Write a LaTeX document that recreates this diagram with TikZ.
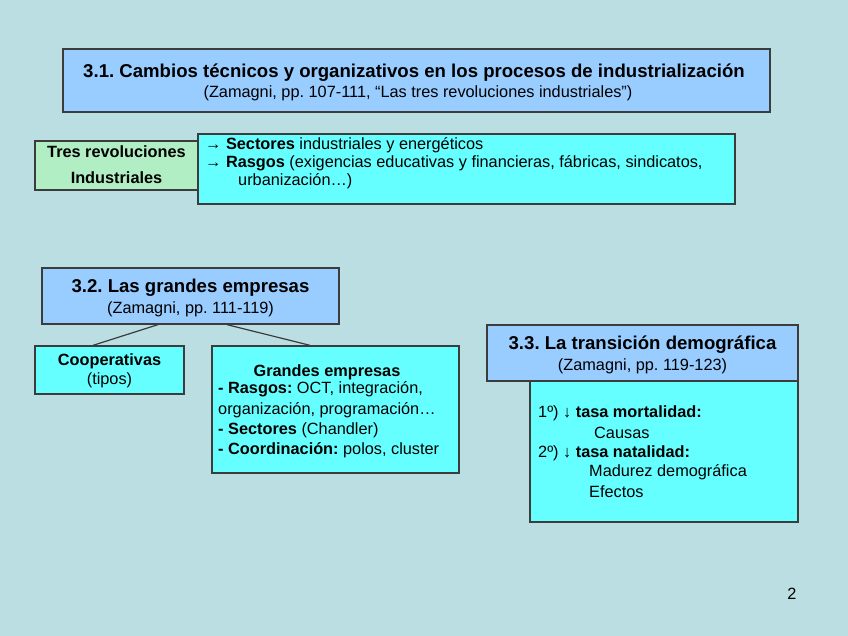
\documentclass[tikz,border=0pt]{standalone}
\usepackage{fontspec}
\setmainfont{Liberation Sans}
\frenchspacing
\definecolor{bg}{RGB}{186,222,226}
\definecolor{lblue}{RGB}{153,204,255}
\definecolor{cyanbox}{RGB}{102,255,255}
\definecolor{lgreen}{RGB}{178,238,196}
\definecolor{boxline}{RGB}{60,60,60}
\begin{document}
\begin{tikzpicture}[x=1pt,y=-1pt,
  box/.style={draw=boxline, line width=1.3pt, inner sep=0pt},
  big/.style={font=\bfseries\fontsize{18.6}{22}\selectfont, inner sep=0pt},
  sub/.style={font=\fontsize{16.3}{19}\selectfont, inner sep=0pt},
  bsub/.style={font=\bfseries\fontsize{16.3}{19}\selectfont, inner sep=0pt},
  lft/.style={sub, anchor=west},
  conn/.style={draw=boxline, line width=1.2pt}]
\fill[bg] (0,0) rectangle (848,636);
\useasboundingbox (0,0) rectangle (848,636);

% 3.1
\node[box, fill=lblue, minimum width=707pt, minimum height=63pt] (b31) at (416.5,80.5) {};
\node[big] (b31t) at (414,73) {3.1. Cambios técnicos y organizativos en los procesos de industrialización};
\node[sub] (b31s) at (418,93) {(Zamagni, pp. 107-111, “Las tres revoluciones industriales”)};

% Tres revoluciones
\node[box, fill=lgreen, minimum width=163pt, minimum height=49pt] (tres) at (116.5,165.5) {};
\node[bsub] (tres1) at (116.5,152) {Tres revoluciones};
\node[bsub] (tres2) at (116.5,178) {Industriales};
\node[box, fill=cyanbox, minimum width=537pt, minimum height=70pt] (sect) at (466.5,169) {};
\node[lft] (l1) at (205,145) {→ \textbf{Sectores} industriales y energéticos};
\node[lft] (l2) at (205,163) {→ \textbf{Rasgos} (exigencias educativas y financieras, fábricas, sindicatos,};
\node[lft] (l3) at (238,181) {urbanización…)};

% 3.2
\node[box, fill=lblue, minimum width=297pt, minimum height=56pt] (b32) at (190.5,296) {};
\node[big] (b32t) at (190.5,288) {3.2. Las grandes empresas};
\node[sub] (b32s) at (190.5,309) {(Zamagni, pp. 111-119)};

\node[box, fill=cyanbox, minimum width=149pt, minimum height=48pt] (coop) at (109.5,370) {};
\node[bsub] (coop1) at (109.5,361) {Cooperativas};
\node[sub] (coop2) at (109.5,380) {(tipos)};

\node[box, fill=cyanbox, minimum width=247pt, minimum height=127pt] (ge) at (335.5,409.5) {};
\node[bsub] (ge0) at (327,372) {Grandes empresas};
\node[lft] (ge1) at (218,389) {\textbf{- Rasgos:} OCT, integración,};
\node[lft] (ge2) at (218,410) {organización, programación…};
\node[lft] (ge3) at (218,430) {\textbf{- Sectores} (Chandler)};
\node[lft] (ge4) at (218,450) {\textbf{- Coordinación:} polos, cluster};

\draw[conn] ([xshift=-32.5pt]b32.south) -- ([xshift=-16.5pt]coop.north);
\draw[conn] ([xshift=36.5pt]b32.south) -- ([xshift=-25.5pt]ge.north);

% 3.3
\node[box, fill=cyanbox, minimum width=268pt, minimum height=141pt] (dem) at (664,451.5) {};
\node[box, fill=lblue, minimum width=311pt, minimum height=56pt] (b33) at (642.5,353) {};
\node[big] (b33t) at (642.5,345) {3.3. La transición demográfica};
\node[sub] (b33s) at (642.5,366) {(Zamagni, pp. 119-123)};
\node[lft] (d1) at (538,413) {1º) ↓ \textbf{tasa mortalidad:}};
\node[lft] (d2) at (594,433) {Causas};
\node[lft] (d3) at (538,453) {2º) ↓ \textbf{tasa natalidad:}};
\node[lft] (d4) at (589,472) {Madurez demográfica};
\node[lft] (d5) at (589,492) {Efectos};

\node[sub] (pg) at (792,594) {2};
\end{tikzpicture}
\end{document}
